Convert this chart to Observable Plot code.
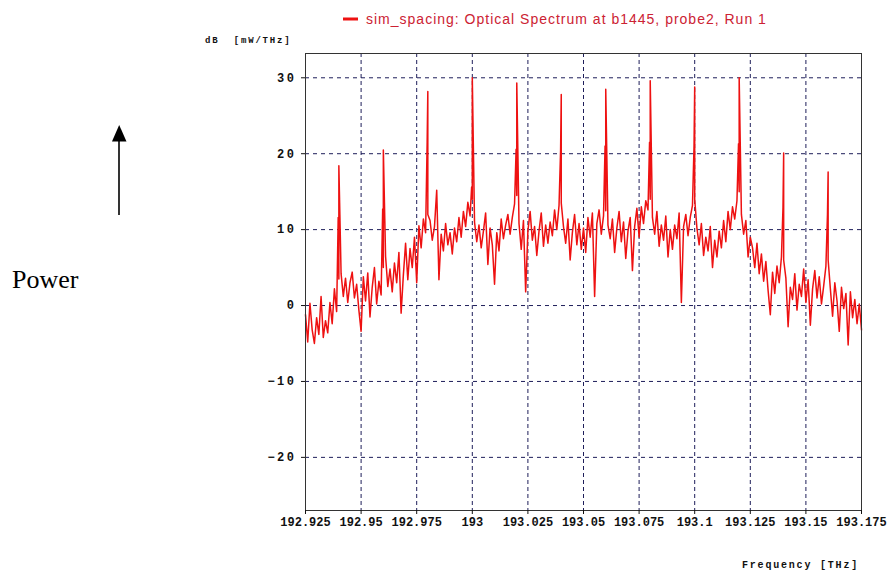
<!DOCTYPE html>
<html>
<head>
<meta charset="utf-8">
<script src="https://cdn.jsdelivr.net/npm/d3@7"></script>
<script src="https://cdn.jsdelivr.net/npm/@observablehq/plot@0.6"></script>
<style>
  body { margin: 0; background: #fff; }
  #wrap { position: relative; width: 891px; height: 573px; overflow: hidden; }
  #chart { position: absolute; left: 0; top: 0; }
  #ann { position: absolute; left: 0; top: 0; pointer-events: none; }
  #chart g[aria-label="y-axis tick label"] text { letter-spacing: 2.5px; font-size: 12px; }
  #chart g[aria-label="x-axis tick label"] text { letter-spacing: 0px; font-size: 12px; }
</style>
</head>
<body>
<div id="wrap">
  <div id="chart"></div>
  <svg id="ann" width="891" height="573">
    <line x1="343" x2="358" y1="19" y2="19" stroke="#ee1111" stroke-width="3"></line>
    <text x="366" y="24" font-family="Liberation Sans, Arial, sans-serif" font-size="14" letter-spacing="1" fill="#cc2233">sim_spacing: Optical Spectrum at b1445, probe2, Run 1</text>
    <text x="205" y="43" font-family="Liberation Mono, monospace" font-size="9" font-weight="bold" letter-spacing="1.8" fill="#111" xml:space="preserve">dB  [mW/THz]</text>
    <text x="742" y="568" font-family="Liberation Mono, monospace" font-size="10" font-weight="bold" letter-spacing="1.8" fill="#111" xml:space="preserve">Frequency [THz]</text>
    <text x="12" y="288" font-family="Liberation Serif, Times New Roman, serif" font-size="26" fill="#000">Power</text>
    <line x1="119" y1="215" x2="119" y2="139" stroke="#000" stroke-width="1.6"></line>
    <polygon points="112,141.5 126.5,141.5 119.2,125" fill="#000"></polygon>
  </svg>
</div>
<script>
// Sampled spectrum (dB [mW/THz]) at 0.001 THz steps from 192.925 THz
const freqStart = 192.925;
const freqStep = 0.001;
const noise = [
  -1.2, -4.8, 0.3, -3.2, -5.0, -1.6, -3.8, 1.2, -4.2, -2.0, -3.6, 0.4, -2.4, 2.2, -0.8,
  3.5,
  4.2, 1.2, 3.6, 0.4, 3.0, 4.4, 1.0, 2.8, -0.6,
  -3.4, 3.8, 0.6, 4.3, -1.5, 2.4, 5.0, 0.2, 3.2, 1.4,
  5.0,
  6.5, 2.5, 4.8, 1.8, 5.6, 3.0, 7.0, -1.0, 4.0,
  8.2, 3.4, 7.5, 5.0, 9.0, 3.0, 10.5, 7.6, 11.4, 9.6,
  12.0,
  11.2, 8.6, 10.4, 15.2, 3.4, 9.4, 7.2, 10.8, 8.0,
  9.6, 6.8, 10.2, 8.4, 11.6, 9.0, 12.4, 10.4, 13.6, 11.8,
  14.0,
  11.0, 8.4, 10.6, 7.6, 9.8, 12.2, 5.4, 10.2, 8.0,
  2.8, 9.6, 7.2, 11.4, 8.8, 10.6, 12.0, 9.4, 11.6, 13.4,
  14.5,
  10.8, 7.4, 11.2, 1.8, 9.8, 12.4, 8.6, 10.4, 6.6,
  9.8, 12.2, 7.8, 10.6, 8.2, 11.0, 9.2, 12.6, 10.0, 13.2,
  13.5,
  10.4, 8.2, 11.4, 6.0, 9.6, 12.0, 8.0, 10.8, 7.4,
  10.2, 7.0, 11.6, 9.0, 12.2, 1.2, 10.8, 12.6, 9.4, 11.8,
  12.5,
  10.6, 8.8, 11.4, 7.0, 10.2, 12.4, 8.4, 11.0, 6.2,
  9.8, 11.6, 4.6, 10.4, 12.8, 9.0, 13.0, 10.8, 13.8, 12.6,
  14.0,
  11.6, 9.4, 12.4, 7.8, 10.6, 8.6, 11.8, 6.4, 10.0,
  7.4, 10.6, 8.8, 12.2, 0.4, 10.4, 12.0, 9.2, 11.6, 13.2,
  14.0,
  10.2, 8.0, 10.8, 6.6, 9.0, 7.2, 10.4, 5.0, 8.6,
  6.4, 9.8, 7.6, 11.2, 8.4, 12.4, 10.0, 13.0, 11.4, 13.8,
  15.0,
  12.0, 9.4, 11.2, 6.4, 9.0, 7.6, 5.0, 8.2, 4.2,
  6.8, 3.2, 5.8, 2.0, -1.2, 4.4, 1.6, 5.2, 3.0, 6.4,
  6.0,
  3.6, -2.8, 2.4, 0.8, 4.2, -0.6, 2.8, 1.2, 4.8,
  0.4, 3.4, -2.6, 2.2, 4.6, 1.0, 3.8, 0.2, 2.6, 5.2,
  6.0,
  2.2, -1.4, 3.0, 0.6, -3.4, 2.4, -0.4, 1.6, -5.2,
  1.8, -1.6, 0.8, -2.4, 0.2, -3.2
];

// WDM carriers
const peakFreq = [192.94, 192.96, 192.98, 193.00, 193.02, 193.04, 193.06, 193.08, 193.10, 193.12, 193.14, 193.16];
const peakTop = [18.4, 20.5, 28.2, 30.0, 29.3, 27.8, 28.5, 29.6, 28.8, 30.0, 20.1, 17.6];
const peakShoulder = [11.6, 12.7, 21.5, 15.6, 20.6, 20.4, 21.0, 21.5, 21.0, 21.3, 12.9, 12.0];

const xTicks = [192.925, 192.95, 192.975, 193, 193.025, 193.05, 193.075, 193.1, 193.125, 193.15, 193.175];
const yTicks = [-20, -10, 0, 10, 20, 30];

const pts = noise.map((v, i) => ({ f: freqStart + i * freqStep, v }));
peakFreq.forEach((f, j) => {
  pts.push({ f: f - 0.0003, v: peakShoulder[j] });
  pts.push({ f: f, v: peakTop[j] });
});
pts.sort((a, b) => a.f - b.f);

const gridStroke = "#1e1e5a";

const chart = Plot.plot({
  width: 891,
  height: 573,
  marginLeft: 305,
  marginRight: 30,
  marginTop: 53,
  marginBottom: 63,
  style: { background: "transparent", fontFamily: "Liberation Mono, monospace", fontSize: "11px", color: "#111" },
  x: { domain: [192.925, 193.175] },
  y: { domain: [-27, 33.2] },
  marks: [
    Plot.gridX(xTicks, { stroke: gridStroke, strokeOpacity: 1, strokeWidth: 1, strokeDasharray: "4,3" }),
    Plot.gridY(yTicks, { stroke: gridStroke, strokeOpacity: 1, strokeWidth: 1, strokeDasharray: "4,4" }),
    Plot.line(pts, { x: "f", y: "v", stroke: "#ee1111", strokeWidth: 1.5 }),
    Plot.frame({ stroke: "#333", strokeWidth: 1 }),
    Plot.axisX(xTicks, { tickFormat: d => String(+d.toFixed(3)), tickSize: 4, tickPadding: 3, fontWeight: "bold", label: null }),
    Plot.axisY(yTicks, { tickSize: 4, tickPadding: 5, fontWeight: "bold", label: null })
  ]
});
document.getElementById("chart").appendChild(chart);
</script>
</body>
</html>
